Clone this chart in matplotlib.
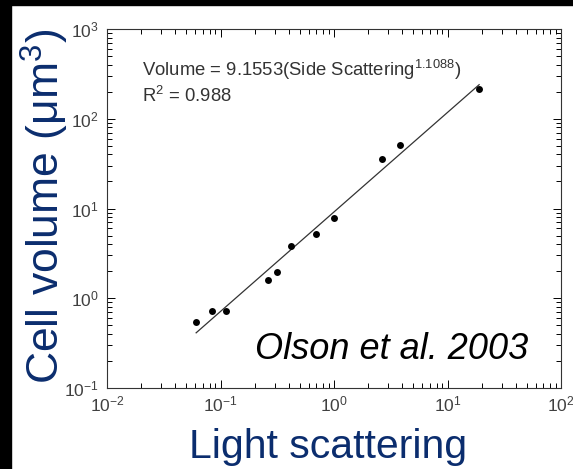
import matplotlib
matplotlib.use("Agg")
import matplotlib.pyplot as plt
from matplotlib.patches import Rectangle
import numpy as np

# side scattering vs. cell volume (Olson et al. 2003)
side_scatter = [0.061, 0.084, 0.111, 0.262, 0.315, 0.418, 0.69, 1.0, 2.65, 3.81, 19.0]
cell_volume = [0.54, 0.72, 0.72, 1.60, 1.95, 3.85, 5.2, 7.9, 35.6, 51.0, 214.0]
fit_coef = 9.1553
fit_exp = 1.1088
r_squared = 0.988

navy = "#0b2d6e"
tick_grey = "#404040"

plt.rcParams["font.family"] = ["Liberation Sans", "DejaVu Sans"]
plt.rcParams["mathtext.fontset"] = "custom"
plt.rcParams["mathtext.rm"] = "Liberation Sans"
plt.rcParams["mathtext.it"] = "Liberation Sans:italic"
plt.rcParams["mathtext.default"] = "regular"

W, H = 573, 469
fig = plt.figure(figsize=(W / 100, H / 100), dpi=100)
fig.patch.set_facecolor("white")

# axes box in pixel coords: left 107, right 561, top 29, bottom 388
ax = fig.add_axes([107 / W, (H - 388) / H, (561 - 107) / W, (388 - 29) / H])
ax.set_xscale("log")
ax.set_yscale("log")
ax.set_xlim(1e-2, 1e2)
ax.set_ylim(1e-1, 1e3)

fit_x = np.array([min(side_scatter), max(side_scatter)])
ax.plot(fit_x, fit_coef * fit_x ** fit_exp, color="#333333", lw=0.9)
ax.plot(side_scatter, cell_volume, "o", color="black", ms=5, mec="none")

ax.tick_params(which="both", direction="in", top=True, right=True,
               colors="black", labelcolor=tick_grey, labelsize=12.5, width=0.7)
ax.tick_params(which="major", length=6)
ax.tick_params(which="minor", length=3.5)
ax.tick_params(axis="x", pad=5)
ax.tick_params(axis="y", pad=6)
for sp in ax.spines.values():
    sp.set_linewidth(0.8)
    sp.set_color("#333333")

ax.text(0.077, 0.870, "Volume = %.4f(Side Scattering$^{%.4f}$)" % (fit_coef, fit_exp),
        transform=ax.transAxes, fontsize=13.3, color="#333333", va="baseline")
ax.text(0.077, 0.797, "R$^{2}$ = %.3f" % r_squared,
        transform=ax.transAxes, fontsize=13.3, color="#333333", va="baseline")
ax.text(0.326, 0.081, "Olson et al. 2003", transform=ax.transAxes,
        fontsize=26, style="italic", color="black", va="baseline")

fig.text(45 / W, (H - 206) / H, "Cell volume (\u03bcm$^{3}$)", rotation=90,
         ha="center", va="center", fontsize=32, color=navy)
fig.text(328 / W, (H - 458) / H, "Light scattering", ha="center",
         va="baseline", fontsize=29.5, color=navy)

# dark frame strips along the left and top edges
fig.add_artist(Rectangle((0, 0), 11 / W, 1, transform=fig.transFigure,
                         color="black", zorder=10))
fig.add_artist(Rectangle((0, 1 - 5 / H), 1, 5 / H, transform=fig.transFigure,
                         color="black", zorder=10))

fig.savefig("out.png", dpi=100)
